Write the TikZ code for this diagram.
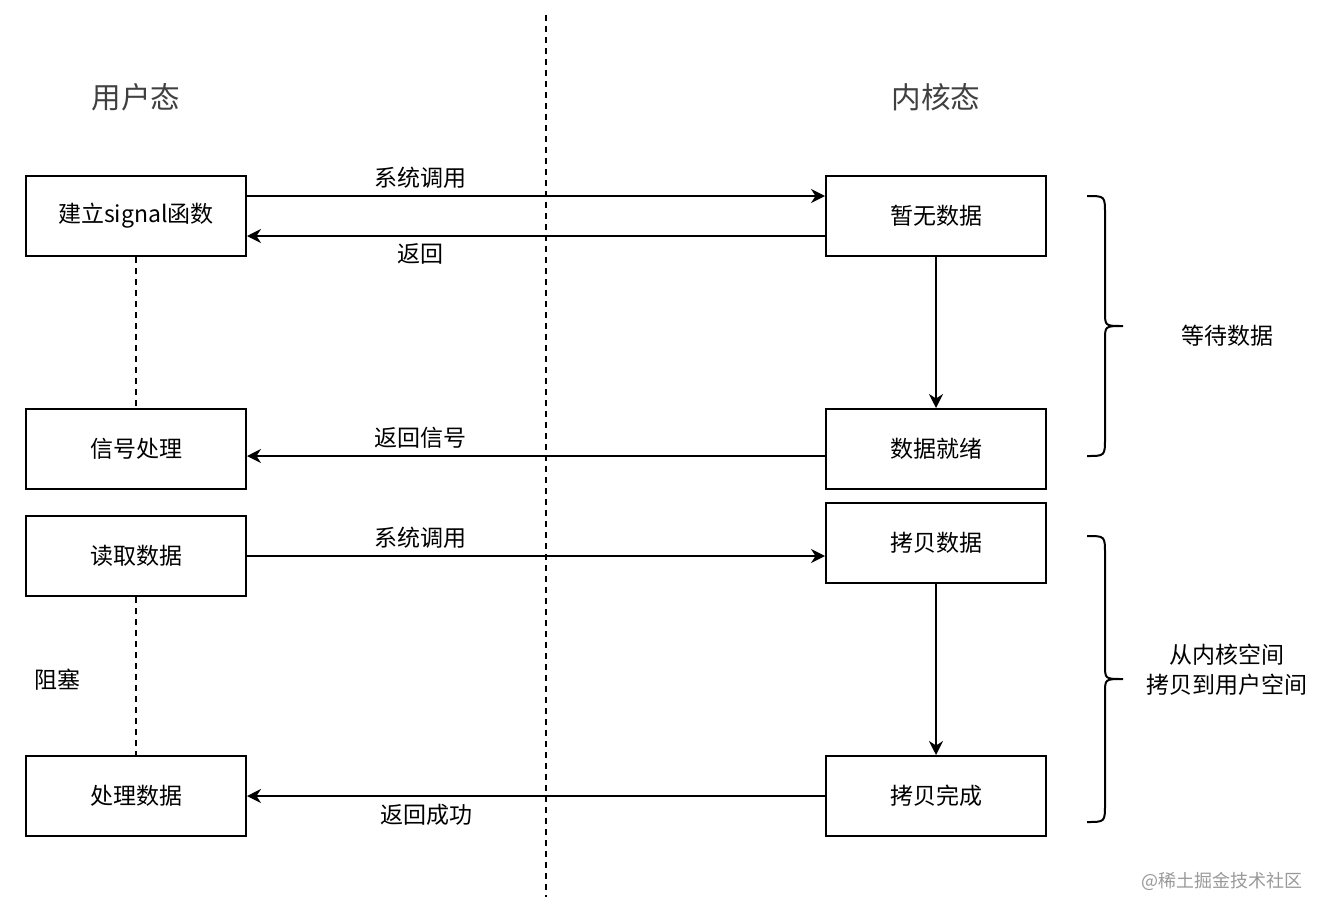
\documentclass[tikz,border=0pt]{standalone}
\usepackage{fontspec}
\newfontfamily\cjk{Noto Sans CJK SC}
\usetikzlibrary{arrows.meta, positioning}
\tikzset{
    >={Stealth[length=7pt,width=7pt]}, % filled arrow heads
    every path/.style={line width=1pt},
    box/.style={draw, minimum width=110pt, minimum height=40pt, inner sep=0pt, font=\cjk\fontsize{11.5}{13}\selectfont}, % the step boxes
    txt/.style={font=\cjk\fontsize{11.5}{15}\selectfont, inner sep=3.5pt},
    title/.style={font=\cjk\fontsize{14.8}{17}\selectfont, text=black!75},
    dash line/.style={dash pattern=on 3pt off 2.5pt, line width=0.9pt},
}

\begin{document}
\begin{tikzpicture}[x=0.5pt, y=-0.5pt]
    \useasboundingbox (0,0) rectangle (1327,916);

    \node[box] at (136,216) (SETUP) {建立signal函数};
    \node[box] at ([xshift=400pt]SETUP) (NODATA) {暂无数据};
    \node[box] at ([yshift=-116.5pt]SETUP) (SIGHANDLE) {信号处理};
    \node[box] at ([xshift=400pt]SIGHANDLE) (READY) {数据就绪};
    \node[box] at ([yshift=-53.5pt]SIGHANDLE) (READ) {读取数据};
    \node[box] at ([xshift=400pt,yshift=6.5pt]READ) (COPY) {拷贝数据};
    \node[box] at ([yshift=-120pt]READ) (PROCESS) {处理数据};
    \node[box] at ([xshift=400pt]PROCESS) (DONE) {拷贝完成};

    \node[title] at ([yshift=59.5pt]SETUP) (USER) {用户态};
    \node[title] at ([yshift=59.5pt]NODATA) (KERNEL) {内核态};

    % divider between user and kernel side
    \coordinate (TOP) at (546,15);
    \coordinate (BOTTOM) at (546,897);
    \draw[dash line] (TOP) -- (BOTTOM);

    \draw[->] ([yshift=10pt]SETUP.east) -- ([yshift=10pt]NODATA.west) node[txt, pos=0.3, above] {系统调用};
    \draw[->] ([yshift=-10pt]NODATA.west) -- ([yshift=-10pt]SETUP.east) node[txt, pos=0.7, below] {返回};
    \draw[->] ([yshift=-3.5pt]READY.west) -- ([yshift=-3.5pt]SIGHANDLE.east) node[txt, pos=0.7, above] {返回信号};
    \draw[->] (READ.east) -- (READ.east -| COPY.west) node[txt, pos=0.3, above] {系统调用};
    \draw[->] (DONE.west) -- (PROCESS.east) node[txt, pos=0.69, below] {返回成功};

    \draw[->] (NODATA) -- (READY);
    \draw[->] (COPY) -- (DONE);

    \draw[dash line] (SETUP) -- (SIGHANDLE);
    \draw[dash line] (READ) -- (PROCESS);
    \node[txt] at (57,680) (BLOCK) {阻塞};

    % braces on the right
    \draw (1087,196) .. controls (1105,196) .. (1105,214) -- (1105,312)
        .. controls (1105,326) .. (1123,326) .. controls (1105,326) .. (1105,340)
        -- (1105,438) .. controls (1105,456) .. (1087,456);
    \node[txt] at (1227,336) (WAIT) {等待数据};

    \draw (1087,536) .. controls (1105,536) .. (1105,554) -- (1105,665)
        .. controls (1105,679) .. (1123,679) .. controls (1105,679) .. (1105,693)
        -- (1105,804) .. controls (1105,822) .. (1087,822);
    \node[txt, align=center] at (1227,670) (COPYTXT) {从内核空间\\拷贝到用户空间};

    \node[font=\cjk\fontsize{9}{10}\selectfont, text=black!40] at (1222,881) (MARK) {@稀土掘金技术社区};
\end{tikzpicture}
\end{document}
